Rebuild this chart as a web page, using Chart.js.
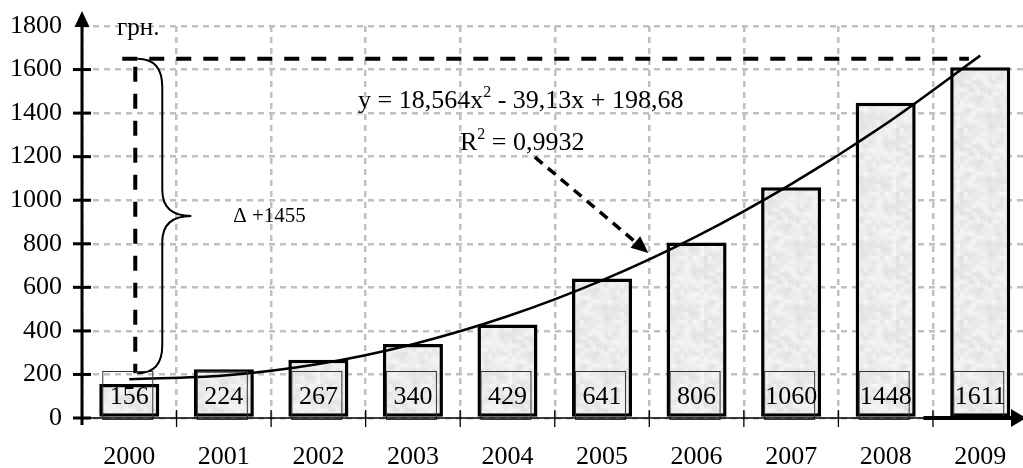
<!DOCTYPE html>
<html>
<head>
    <title>Динаміка, грн.</title>
    <script src="https://cdn.jsdelivr.net/npm/chart.js@4/dist/chart.umd.min.js"></script>
    <style>
        html, body { margin: 0; padding: 0; overflow: hidden; background: #fff; }
        #wrap { width: 1030px; height: 468px; }
    </style>
</head>
<body>
<div id="wrap"><canvas id="chart" width="1030" height="468"></canvas></div>
<script>
// chart values
const years = ['2000', '2001', '2002', '2003', '2004', '2005', '2006', '2007', '2008', '2009'];
const values = [156, 224, 267, 340, 429, 641, 806, 1060, 1448, 1611];
const trendValues = [178, 195, 248, 339, 467, 632, 834, 1074, 1350, 1664];
const yTicks = [0, 200, 400, 600, 800, 1000, 1200, 1400, 1600, 1800];
const unitLabel = 'грн.';
const equationText = ['y = 18,564x', '2', ' - 39,13x + 198,68'];
const r2Text = ['R', '2', ' = 0,9932'];
const deltaText = 'Δ +1455';
const deltaLevels = [206, 1650];   // bottom / top of the dashed bracket

const FONT = "'Liberation Serif', 'Times New Roman', serif";
Chart.defaults.font.family = FONT;
Chart.defaults.color = '#000';

// light grey marbled fill for the bars
function makeTexture() {
    const small = document.createElement('canvas');
    small.width = 16; small.height = 16;
    const s = small.getContext('2d');
    for (let i = 0; i < 16; i++) {
        for (let j = 0; j < 16; j++) {
            const h = Math.sin(i * 12.9898 + j * 78.233) * 43758.5453;
            const v = Math.round(224 + (h - Math.floor(h)) * 24);
            s.fillStyle = `rgb(${v},${v},${v})`;
            s.fillRect(i, j, 1, 1);
        }
    }
    const big = document.createElement('canvas');
    big.width = 64; big.height = 64;
    const b = big.getContext('2d');
    b.imageSmoothingEnabled = true;
    b.drawImage(small, 0, 0, 64, 64);
    return b.createPattern(big, 'repeat');
}

const decorations = {
    id: 'decorations',
    afterDatasetsDraw(chart) {
        const ctx = chart.ctx;
        const x = chart.scales.x, y = chart.scales.y;
        const area = chart.chartArea;
        const base = y.getPixelForValue(0);
        ctx.save();

        // value boxes at the bottom of the bars
        ctx.font = '26px ' + FONT;
        ctx.textAlign = 'center';
        ctx.textBaseline = 'middle';
        values.forEach((v, i) => {
            const cx = x.getPixelForValue(i);
            ctx.strokeStyle = '#333';
            ctx.lineWidth = 1;
            ctx.strokeRect(cx - 26.5, base - 46.5, 50, 48);
            ctx.fillStyle = '#000';
            ctx.fillText(String(v), cx, base - 21);
        });

        // y axis with arrow and crossing ticks
        ctx.strokeStyle = '#000';
        ctx.fillStyle = '#000';
        ctx.lineWidth = 3;
        const top = y.getPixelForValue(1800);
        ctx.beginPath();
        ctx.moveTo(area.left, base + 7);
        ctx.lineTo(area.left, top);
        ctx.stroke();
        ctx.beginPath();
        ctx.moveTo(area.left, top - 15);
        ctx.lineTo(area.left - 7.5, top + 1);
        ctx.lineTo(area.left + 7.5, top + 1);
        ctx.closePath();
        ctx.fill();
        yTicks.slice(0, -1).forEach(t => {
            const py = y.getPixelForValue(t);
            ctx.beginPath();
            ctx.moveTo(area.left - 9, py);
            ctx.lineTo(area.left + 9, py);
            ctx.stroke();
        });

        // x axis with arrow and ticks between categories
        ctx.lineWidth = 1.5;
        ctx.beginPath();
        ctx.moveTo(area.left - 8, base);
        ctx.lineTo(1012, base);
        ctx.stroke();
        ctx.lineWidth = 4;
        ctx.beginPath();
        ctx.moveTo(x.getPixelForValue(8.4), base);
        ctx.lineTo(1012, base);
        ctx.stroke();
        ctx.beginPath();
        ctx.moveTo(1026, base);
        ctx.lineTo(1011, base - 9);
        ctx.lineTo(1011, base + 9);
        ctx.closePath();
        ctx.fill();
        ctx.lineWidth = 1.3;
        for (let i = 0; i < years.length - 1; i++) {
            const px = x.getPixelForValue(i + 0.5);
            ctx.beginPath();
            ctx.moveTo(px, base - 8);
            ctx.lineTo(px, base + 9);
            ctx.stroke();
        }

        // dashed bracket lines for the growth
        const yTop = y.getPixelForValue(deltaLevels[1]);
        const yBot = y.getPixelForValue(deltaLevels[0]);
        const xL = x.getPixelForValue(0) + 6;
        ctx.lineWidth = 4;
        ctx.setLineDash([15, 12]);
        ctx.beginPath();
        ctx.moveTo(xL - 13, yTop);
        ctx.lineTo(x.getPixelForValue(8.88), yTop);
        ctx.stroke();
        ctx.beginPath();
        ctx.moveTo(xL, yTop + 8);
        ctx.lineTo(xL, yBot);
        ctx.stroke();
        ctx.setLineDash([]);

        // curly brace
        const xV = xL + 27, xTip = xL + 56, mid = (yTop + yBot) / 2;
        ctx.lineWidth = 2;
        ctx.beginPath();
        ctx.moveTo(xL + 2, yTop);
        ctx.quadraticCurveTo(xV, yTop, xV, yTop + 28);
        ctx.lineTo(xV, mid - 26);
        ctx.quadraticCurveTo(xV, mid, xTip, mid);
        ctx.quadraticCurveTo(xV, mid, xV, mid + 26);
        ctx.lineTo(xV, yBot - 28);
        ctx.quadraticCurveTo(xV, yBot, xL + 2, yBot);
        ctx.stroke();

        ctx.textAlign = 'left';
        ctx.textBaseline = 'middle';
        ctx.font = '21px ' + FONT;
        ctx.fillText(deltaText, xL + 98, mid + 1);

        // unit label
        ctx.textBaseline = 'alphabetic';
        ctx.font = '25px ' + FONT;
        ctx.fillText(unitLabel, area.left + 35, 35);

        // trend equation
        function sup(parts, px, py) {
            ctx.font = '26px ' + FONT;
            ctx.fillText(parts[0], px, py);
            px += ctx.measureText(parts[0]).width;
            ctx.font = '16px ' + FONT;
            ctx.fillText(parts[1], px, py - 11);
            px += ctx.measureText(parts[1]).width;
            ctx.font = '26px ' + FONT;
            ctx.fillText(parts[2], px, py);
        }
        sup(equationText, 358, 108);
        sup(r2Text, 460, 150);

        // dashed pointer to the trend line
        const ax0 = x.getPixelForValue(4.29), ay0 = y.getPixelForValue(1198);
        const ax1 = x.getPixelForValue(5.49), ay1 = y.getPixelForValue(758);
        const ang = Math.atan2(ay1 - ay0, ax1 - ax0);
        const hl = 17, hw = 7.5;
        const bx = ax1 - hl * Math.cos(ang), by = ay1 - hl * Math.sin(ang);
        ctx.lineWidth = 3.5;
        ctx.setLineDash([10, 7]);
        ctx.beginPath();
        ctx.moveTo(ax0, ay0);
        ctx.lineTo(bx, by);
        ctx.stroke();
        ctx.setLineDash([]);
        ctx.beginPath();
        ctx.moveTo(ax1, ay1);
        ctx.lineTo(bx + hw * Math.sin(ang), by - hw * Math.cos(ang));
        ctx.lineTo(bx - hw * Math.sin(ang), by + hw * Math.cos(ang));
        ctx.closePath();
        ctx.fill();

        ctx.restore();
    }
};

new Chart(document.getElementById('chart').getContext('2d'), {
    type: 'bar',
    data: {
        labels: years,
        datasets: [
            {
                type: 'line',
                data: trendValues,
                borderColor: '#000',
                borderWidth: 2.5,
                pointRadius: 0,
                cubicInterpolationMode: 'monotone',
                fill: false,
                order: 0
            },
            {
                type: 'bar',
                data: values,
                backgroundColor: makeTexture(),
                borderColor: '#000',
                borderWidth: 3.5,
                borderSkipped: false,
                barPercentage: 0.635,
                categoryPercentage: 1,
                order: 1
            }
        ]
    },
    options: {
        responsive: false,
        animation: false,
        devicePixelRatio: 1,
        layout: { padding: { left: 0, top: 26, right: 2.5, bottom: 0 } },
        plugins: { legend: { display: false }, tooltip: { enabled: false } },
        scales: {
            x: {
                offset: true,
                grid: { color: '#c0c0c0', lineWidth: 2.5, drawTicks: false, offset: true },
                border: { display: false, dash: [6, 5] },
                ticks: { font: { size: 26 }, padding: 24, maxRotation: 0, color: '#000' },
                afterFit: s => { s.height = 50; s.paddingLeft = 0; s.paddingRight = 0; }
            },
            y: {
                min: 0,
                max: 1800,
                grid: { color: '#c0c0c0', lineWidth: 2.5, drawTicks: false },
                border: { display: false, dash: [6, 5] },
                ticks: { stepSize: 200, font: { size: 26 }, padding: 20, color: '#000', callback: v => String(v) },
                afterFit: s => { s.width = 82; s.paddingTop = 0; s.paddingBottom = 0; }
            }
        }
    },
    plugins: [decorations]
});
</script>
</body>
</html>
